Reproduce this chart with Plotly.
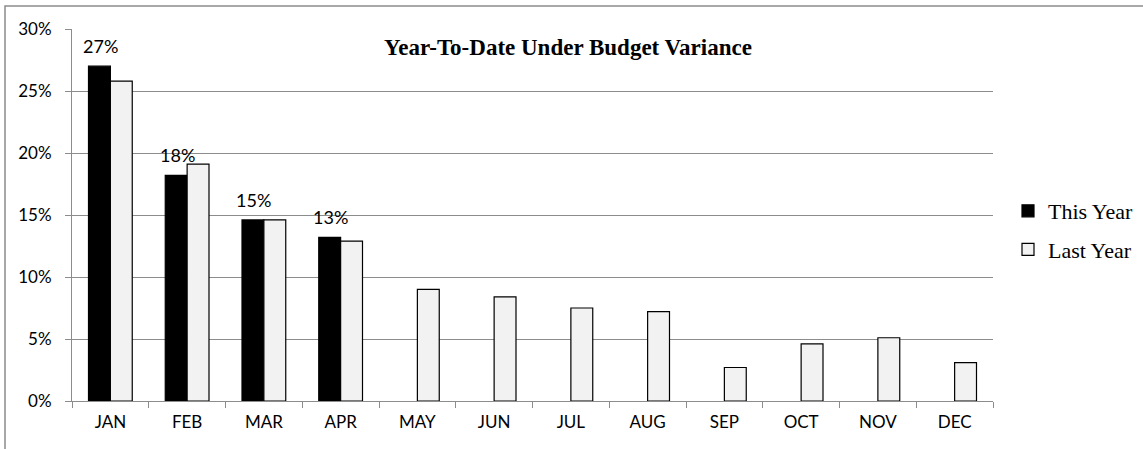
import plotly.graph_objects as go

months = ["JAN", "FEB", "MAR", "APR", "MAY", "JUN", "JUL", "AUG", "SEP", "OCT", "NOV", "DEC"]
this_year = [0.270, 0.182, 0.146, 0.132, None, None, None, None, None, None, None, None]
last_year = [0.258, 0.191, 0.146, 0.129, 0.090, 0.084, 0.075, 0.072, 0.027, 0.046, 0.051, 0.031]
this_labels = ["27%", "18%", "15%", "13%"]
y_ticks = [0, 0.05, 0.10, 0.15, 0.20, 0.25, 0.30]
title_text = "Year-To-Date Under Budget Variance"

W, H = 1143, 449
L, R, T, B = 72, 150, 29, 48
pw, ph = W - L - R, H - T - B

def px(x):
    return (x - L) / pw

def py(y):
    return (H - B - y) / ph

fig = go.Figure()
fig.add_trace(go.Bar(
    x=months, y=this_year, name="This Year", legendgroup="a",
    marker=dict(color="#000000", line=dict(color="#000000", width=1.2)),
))
fig.add_trace(go.Bar(
    x=months, y=last_year, name="Last Year", legendgroup="b",
    marker=dict(color="#f2f2f2", line=dict(color="#000000", width=1.2)),
))

# data labels above the "This Year" bars
for m, v, lab in zip(months, this_year, this_labels):
    fig.add_annotation(x=m, y=v, text=lab, showarrow=False,
                       xref="x", yref="y", xanchor="center", yanchor="middle",
                       xshift=-10, yshift=20,
                       font=dict(family="Lato", size=18, color="#000000"))

fig.update_layout(
    template="none",
    width=W, height=H,
    margin=dict(l=L, r=R, t=T, b=B, autoexpand=False),
    paper_bgcolor="white", plot_bgcolor="white",
    barmode="group", bargap=0.43, bargroupgap=0,
    showlegend=True,
    legend=dict(
        x=px(1008), y=py(190), xanchor="left", yanchor="top",
        font=dict(family="Liberation Serif", size=22, color="#000000"),
        itemwidth=30, tracegroupgap=7, bgcolor="rgba(0,0,0,0)",
        borderwidth=0,
    ),
    title=dict(
        text="<b>" + title_text + "</b>",
        x=568 / W, y=1 - 46.5 / H, xanchor="center", yanchor="middle",
        xref="container", yref="container",
        font=dict(family="Liberation Serif", size=23, color="#000000"),
    ),
    font=dict(family="Lato", size=17, color="#000000"),
)

fig.update_xaxes(
    automargin=False,
    showline=True, linecolor="#8c8c8c", linewidth=1,
    ticks="outside", tickson="boundaries", ticklen=6, tickcolor="#8c8c8c",
    showgrid=False, tickfont=dict(family="Lato", size=17, color="#000000"),
    ticklabelstandoff=6,
)
fig.update_yaxes(
    automargin=False,
    range=[0, 0.30], tickvals=y_ticks, tickformat=".0%",
    showline=True, linecolor="#8c8c8c", linewidth=1,
    ticks="outside", ticklen=6, tickcolor="#8c8c8c",
    showgrid=True, gridcolor="#8c8c8c", gridwidth=1,
    zeroline=False, tickfont=dict(family="Lato", size=17, color="#000000"),
    ticklabelstandoff=10,
)

# outer chart border
fig.add_shape(type="rect", xref="paper", yref="paper",
              x0=px(5), x1=px(1160), y0=py(470), y1=py(6),
              line=dict(color="#8c8c8c", width=1.5), fillcolor="rgba(0,0,0,0)",
              layer="above")

fig.write_html("out.html", config={"displayModeBar": False},
               post_script="document.body.style.margin='0px';")
